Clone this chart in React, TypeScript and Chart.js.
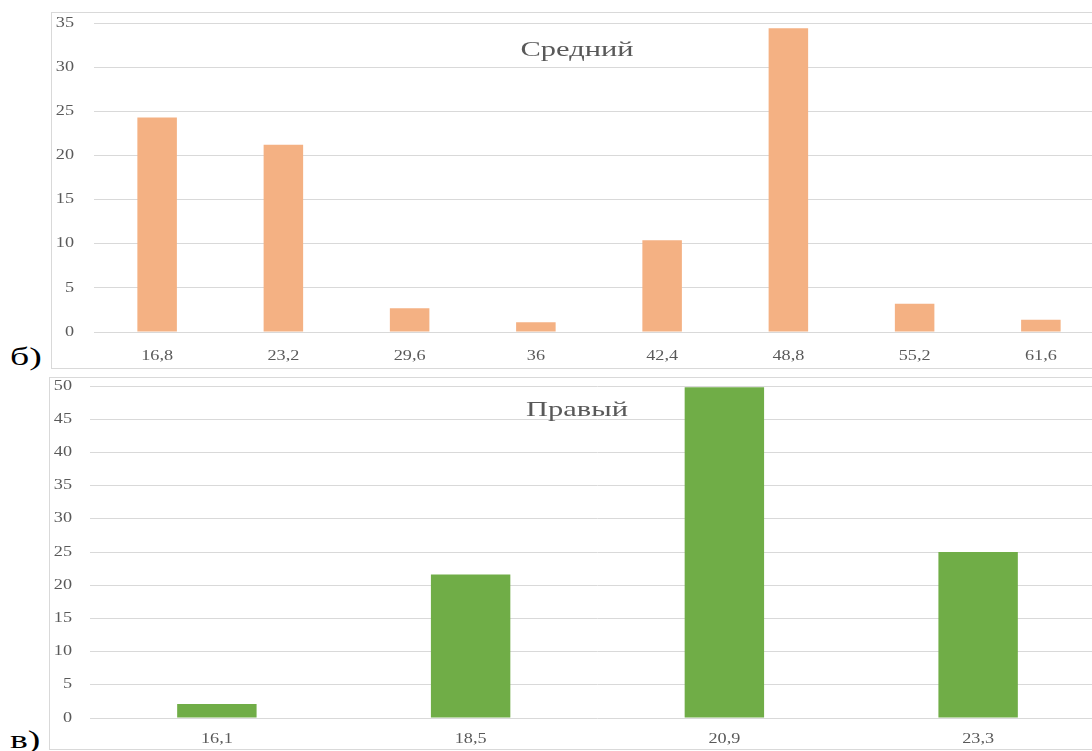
import React, { useEffect, useRef } from 'react';
import { Chart, registerables } from 'chart.js';

Chart.register(...registerables);

// "Средний" distribution
const middleTitle = 'Средний';
const middleLabels = ['16,8', '23,2', '29,6', '36', '42,4', '48,8', '55,2', '61,6'];
const middleValues = [24.3, 21.2, 2.7, 1.1, 10.4, 34.4, 3.2, 1.4];
const middleAxisMax = 35;

// "Правый" distribution
const rightTitle = 'Правый';
const rightLabels = ['16,1', '18,5', '20,9', '23,3'];
const rightValues = [2.1, 21.6, 49.8, 25.0];
const rightAxisMax = 50;

const axisStep = 5;
const panelLetters = ['б)', 'в)'];

const SERIF = '"Liberation Serif", "Times New Roman", serif';
const GRID = '#D9D9D9';
const TEXT = '#595959';

// Draws tick labels and the in-plot title with a horizontal stretch,
// using the chart's own scales for every position.
const stretchText = {
  id: 'stretchText',
  afterDraw(chart: any, _args: any, opts: any) {
    const { ctx, scales } = chart;
    const put = (text: string, x: number, y: number, align: CanvasTextAlign, font: string, sx: number) => {
      ctx.save();
      ctx.translate(x, y);
      ctx.scale(sx, 1);
      ctx.font = font;
      ctx.fillStyle = opts.color;
      ctx.textAlign = align;
      ctx.textBaseline = 'middle';
      ctx.fillText(text, 0, 0);
      ctx.restore();
    };
    const tickFont = `${opts.tickSize}px ${SERIF}`;
    const y = scales.y;
    y.ticks.forEach((t: any, i: number) => {
      put(String(t.label), opts.yLabelRight, y.getPixelForTick(i), 'right', tickFont, opts.tickStretch);
    });
    const x = scales.x;
    x.ticks.forEach((t: any, i: number) => {
      put(String(t.label), x.getPixelForTick(i), chart.chartArea.bottom + opts.xLabelGap, 'center', tickFont, opts.tickStretch);
    });
    ctx.save();
    ctx.translate(opts.titleX, opts.titleY);
    ctx.scale(opts.titleStretch, 1);
    ctx.font = `${opts.titleSize}px ${SERIF}`;
    ctx.fillStyle = opts.color;
    ctx.textAlign = 'center';
    ctx.textBaseline = 'alphabetic';
    ctx.fillText(opts.title, 0, 0);
    ctx.restore();
  },
};

function makeConfig(
  labels: string[],
  values: number[],
  color: string,
  axisMax: number,
  layout: { top: number; right: number; yWidth: number; xHeight: number },
  text: { title: string; titleX: number; titleY: number; xLabelGap: number }
): any {
  return {
    type: 'bar',
    data: {
      labels,
      datasets: [
        {
          data: values,
          backgroundColor: color,
          borderWidth: 0,
          barPercentage: 0.313,
          categoryPercentage: 1,
        },
      ],
    },
    options: {
      responsive: false,
      animation: false,
      events: [],
      layout: { padding: { left: 0, top: layout.top, right: layout.right, bottom: 0 } },
      plugins: {
        legend: { display: false },
        title: { display: false },
        tooltip: { enabled: false },
        stretchText: {
          color: TEXT,
          tickSize: 14,
          tickStretch: 1.3,
          yLabelRight: 22,
          xLabelGap: text.xLabelGap,
          title: text.title,
          titleX: text.titleX,
          titleY: text.titleY,
          titleSize: 21,
          titleStretch: 1.45,
        },
      },
      scales: {
        x: {
          grid: { display: false },
          border: { display: false },
          ticks: { display: false },
          afterFit: (s: any) => {
            s.height = layout.xHeight;
          },
        },
        y: {
          min: 0,
          max: axisMax,
          ticks: { display: false, stepSize: axisStep },
          grid: { color: GRID, lineWidth: 1, drawTicks: false },
          border: { display: false },
          afterFit: (s: any) => {
            s.width = layout.yWidth;
          },
        },
      },
    },
    plugins: [stretchText],
  };
}

const letterStyle = (top: number): React.CSSProperties => ({
  position: 'absolute',
  left: 10,
  top,
  fontFamily: SERIF,
  fontSize: 26,
  lineHeight: '26px',
  color: '#000',
  transform: 'scaleX(1.45)',
  transformOrigin: 'left top',
  whiteSpace: 'nowrap',
});

export default function App() {
  const topRef = useRef<HTMLCanvasElement>(null);
  const bottomRef = useRef<HTMLCanvasElement>(null);

  useEffect(() => {
    if (!topRef.current || !bottomRef.current) return;
    const top = new Chart(
      topRef.current,
      makeConfig(
        middleLabels,
        middleValues,
        '#F4B183',
        middleAxisMax,
        { top: 10, right: 8, yWidth: 42, xHeight: 36 },
        { title: middleTitle, titleX: 525, titleY: 43, xLabelGap: 24 }
      )
    );
    const bottom = new Chart(
      bottomRef.current,
      makeConfig(
        rightLabels,
        rightValues,
        '#70AD47',
        rightAxisMax,
        { top: 8, right: 7, yWidth: 40, xHeight: 31 },
        { title: rightTitle, titleX: 527, titleY: 38, xLabelGap: 21 }
      )
    );
    return () => {
      top.destroy();
      bottom.destroy();
    };
  }, []);

  const box = (left: number, topPx: number, w: number, h: number): React.CSSProperties => ({
    position: 'absolute',
    left,
    top: topPx,
    width: w,
    height: h,
    boxSizing: 'border-box',
    border: `1px solid ${GRID}`,
    background: '#fff',
  });

  return (
    <div
      style={{
        position: 'fixed',
        left: 0,
        top: 0,
        width: 1092,
        height: 751,
        overflow: 'hidden',
        background: '#fff',
      }}
    >
      <div style={box(51, 12, 1062, 357)}>
        <canvas ref={topRef} width={1060} height={355} style={{ display: 'block' }} />
      </div>
      <div style={box(49, 377, 1064, 373)}>
        <canvas ref={bottomRef} width={1062} height={371} style={{ display: 'block' }} />
      </div>
      <div style={letterStyle(344)}>{panelLetters[0]}</div>
      <div style={letterStyle(727)}>{panelLetters[1]}</div>
    </div>
  );
}
